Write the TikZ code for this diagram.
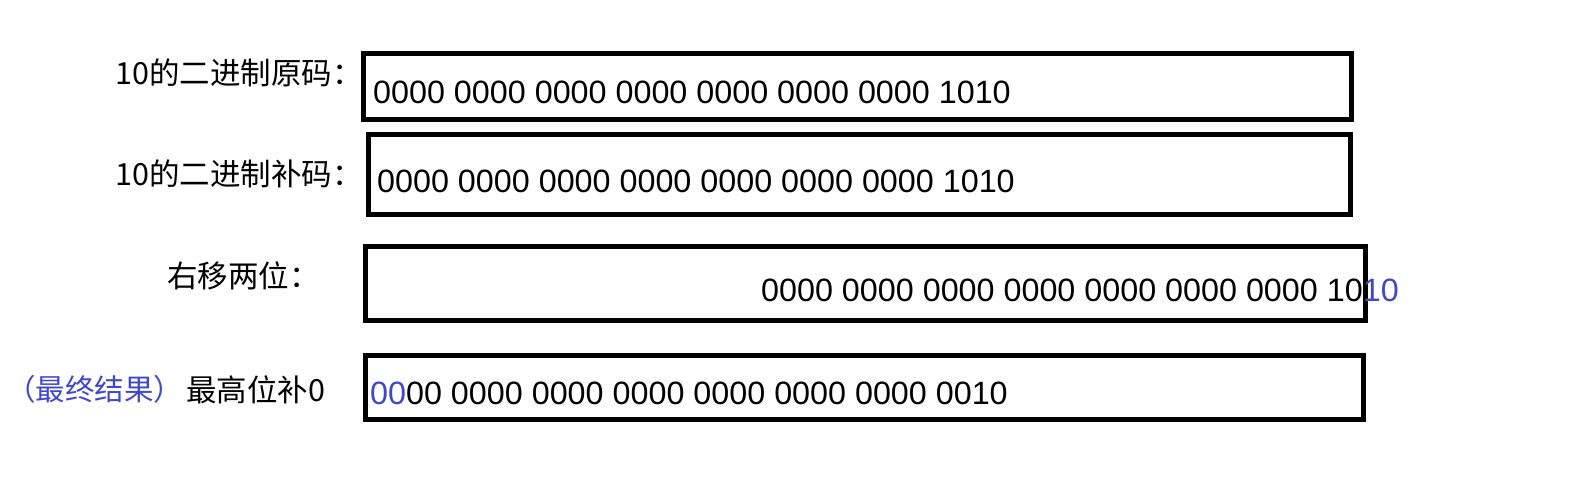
\documentclass[tikz,border=0pt]{standalone}
\usepackage{fontspec}
\setmainfont{Liberation Sans}
\newfontfamily\cjk{Noto Sans CJK SC}
\usepackage{tikz}
\usetikzlibrary{positioning}
\definecolor{markblue}{HTML}{3F48CC}

\begin{document}
\begin{tikzpicture}[
    x=1pt, y=-1pt,
    every node/.style={inner sep=0pt},
    regbox/.style={
        rectangle,
        draw=black,
        line width=5pt,
        anchor=north west
    },
    bits/.style={anchor=base west, font=\fontsize{32.3}{36}\selectfont},
    tag/.style={anchor=base west, font=\cjk\fontsize{30.5}{34}\selectfont}
]
\useasboundingbox (0,0) rectangle (1572,494);

% BOXES
\node[regbox, minimum width=988pt, minimum height=66pt] (origbox) at (361,51) {};
\node[regbox, minimum width=982pt, minimum height=80pt] (compbox) at (366,132) {};
\node[regbox, minimum width=1000pt, minimum height=74pt] (shiftbox) at (363,244) {};
\node[regbox, minimum width=998pt, minimum height=64pt] (resultbox) at (363,353) {};

% LABELS
\node[tag] (origtag) at (115,85) {10的二进制原码：};
\node[tag] (comptag) at (115,186) {10的二进制补码：};
\node[tag] (shifttag) at (167,288) {右移两位：};
\node[tag] (padtag) at (186,401) {最高位补0};
\node[tag, text=markblue, font=\cjk\fontsize{29.5}{33}\selectfont] (finaltag) at (6,400) {（最终结果）};

% BITS
\node[bits] (origbits) at (373,104) {0000 0000 0000 0000 0000 0000 0000 1010};
\node[bits] (compbits) at (377,193) {0000 0000 0000 0000 0000 0000 0000 1010};
\node[bits] (shiftbits) at (761,302) {0000 0000 0000 0000 0000 0000 0000 10\textcolor{markblue}{10}};
\node[bits] (resultbits) at (370,404) {\textcolor{markblue}{00}00 0000 0000 0000 0000 0000 0000 0010};

\end{tikzpicture}
\end{document}
